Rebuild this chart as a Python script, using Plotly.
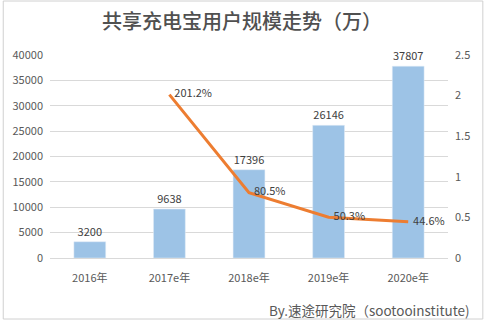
import plotly.graph_objects as go

years = ["2016年", "2017e年", "2018e年", "2019e年", "2020e年"]
users = [3200, 9638, 17396, 26146, 37807]
growth_years = ["2017e年", "2018e年", "2019e年", "2020e年"]
growth = [2.012, 0.805, 0.503, 0.446]
growth_labels = ["201.2%", "80.5%", "50.3%", "44.6%"]

W, H = 484, 320
ml, mr, mt, mb = 48, 36, 55, 62

fig = go.Figure()
fig.add_trace(go.Bar(
    x=years, y=users, width=0.4,
    marker=dict(color="#9DC3E6"),
    text=[str(v) for v in users], textposition="outside",
    textfont=dict(size=11, color="#404040"),
    cliponaxis=False, showlegend=False,
))
fig.add_trace(go.Scatter(
    x=growth_years, y=growth, yaxis="y2", mode="lines+text",
    line=dict(color="#ED7D31", width=3),
    text=["  " + t for t in growth_labels], textposition="middle right",
    textfont=dict(size=11, color="#404040"),
    cliponaxis=False, showlegend=False,
))

pw = W - ml - mr
ph = H - mt - mb
fig.update_layout(
    width=W, height=H,
    margin=dict(l=ml, r=mr, t=mt, b=mb),
    paper_bgcolor="white", plot_bgcolor="white",
    font=dict(family="Noto Sans CJK SC, sans-serif", color="#595959"),
    title=dict(text="共享充电宝用户规模走势（万）", x=0.5, xanchor="center",
               y=1 - 22 / H, yanchor="middle",
               font=dict(size=20, color="#505050", family="Noto Sans CJK SC",
                         weight=500)),
    bargap=0.6,
    xaxis=dict(showgrid=False, showline=True, linecolor="#D9D9D9",
               tickfont=dict(size=11, color="#595959"), ticks="",
               ticklabelstandoff=10),
    yaxis=dict(range=[0, 40000], dtick=5000, gridcolor="#D9D9D9",
               zeroline=False, tickfont=dict(size=11, color="#595959"),
               ticks="", tickformat="d", ticklabelstandoff=6),
    yaxis2=dict(range=[0, 2.5], dtick=0.5, overlaying="y", side="right",
                showgrid=False, zeroline=False,
                tickfont=dict(size=11, color="#595959"), ticks="",
                ticklabelstandoff=6),
    annotations=[dict(text="By.速途研究院（sootooinstitute)", xref="paper", yref="paper",
                      x=(472 - ml) / pw, y=-(310 - (H - mb)) / ph,
                      xanchor="right", yanchor="middle", showarrow=False,
                      font=dict(size=13.5, color="#595959"))],
    shapes=[dict(type="rect", xref="paper", yref="paper",
                 x0=-(ml - 1) / pw, x1=(pw + mr - 1) / pw,
                 y0=-(mb - 1) / ph, y1=(ph + mt - 1) / ph,
                 line=dict(color="#D0D0D0", width=1))],
)
fig.write_html("out.html")
